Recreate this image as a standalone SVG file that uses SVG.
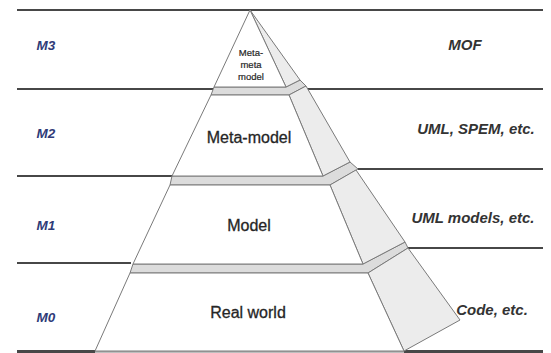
<svg xmlns="http://www.w3.org/2000/svg" width="551" height="353" viewBox="0 0 551 353">
  <style>
    .rule { stroke: #474747; stroke-width: 2; fill: none; }
    .base { stroke: #a8a8a8; stroke-width: 2.5; fill: none; }
    .front { fill: #ffffff; stroke: #7a7a7a; stroke-width: 1; stroke-linejoin: round; }
    .side { fill: #ececec; stroke: #7a7a7a; stroke-width: 1; stroke-linejoin: round; }
    .slab { fill: #dcdcdc; stroke: #7a7a7a; stroke-width: 1; stroke-linejoin: round; }
    .lvl { font-family: "Liberation Sans", Arial, sans-serif; font-size: 13.5px; font-weight: bold; font-style: italic; fill: #2f3b78; text-anchor: middle; }
    .tech { font-family: "Liberation Sans", Arial, sans-serif; font-size: 15px; font-weight: bold; font-style: italic; fill: #333333; text-anchor: middle; }
    .name { font-family: "Liberation Sans", Arial, sans-serif; font-size: 16px; fill: #262626; stroke: #262626; stroke-width: 0.3; text-anchor: middle; }
    .small { font-family: "Liberation Sans", Arial, sans-serif; font-size: 9.5px; fill: #262626; stroke: #262626; stroke-width: 0.2; text-anchor: middle; }
  </style>
  <rect width="551" height="353" fill="#ffffff"/>

  <!-- level separator rules -->
  <g id="connectors">
    <line class="rule" x1="17" y1="10" x2="543" y2="10"/>
    <line class="rule" x1="17" y1="89" x2="213" y2="89"/>
    <line class="rule" x1="305" y1="89" x2="543" y2="89"/>
    <line class="rule" x1="17" y1="176" x2="172" y2="176"/>
    <line class="rule" x1="358" y1="169" x2="543" y2="169"/>
    <line class="rule" x1="17" y1="263" x2="131" y2="263"/>
    <line class="rule" x1="408" y1="248" x2="543" y2="248"/>
    <line class="rule" x1="17" y1="351.5" x2="95" y2="351.5" style="stroke-width:3"/>
    <line class="base" x1="95" y1="351.5" x2="404" y2="351.5"/>
    <line class="rule" x1="404" y1="351.5" x2="543" y2="351.5" style="stroke-width:3"/>
  </g>

  <!-- M0 layer: Real world -->
  <g id="layer-m0">
    <polygon class="slab" points="133,264 363,264 405,242 408,248 368,273 130,273"/>
    <polygon class="side" points="368,273 408,248 460,320 404,351"/>
    <polygon class="front" points="130,273 368,273 404,351 95,351"/>
    <text class="name" x="248" y="318">Real world</text>
  </g>

  <!-- M1 layer: Model -->
  <g id="layer-m1">
    <polygon class="slab" points="172,176 323,176 350,162 358,169 330,185 170,185"/>
    <polygon class="side" points="330,185 356,170 405,242 363,264"/>
    <polygon class="front" points="170,185 330,185 363,264 133,264"/>
    <text class="name" x="249" y="231">Model</text>
  </g>

  <!-- M2 layer: Meta-model -->
  <g id="layer-m2">
    <polygon class="slab" points="214,87 286,87 300,80 306,86 289,95 211,95"/>
    <polygon class="side" points="289,95 306,86 350,162 323,176"/>
    <polygon class="front" points="211,95 289,95 323,176 172,176"/>
    <text class="name" x="249" y="143">Meta-model</text>
  </g>

  <!-- M3 layer: Meta-meta model -->
  <g id="layer-m3">
    <polygon class="side" points="250,10 286,87 300,80"/>
    <polygon class="front" points="250,10 214,87 286,87"/>
    <text class="small" x="251" y="56">Meta-</text>
    <text class="small" x="251" y="68">meta</text>
    <text class="small" x="251" y="80">model</text>
  </g>

  <!-- level names -->
  <g id="level-m3"><text class="lvl" x="46" y="50">M3</text></g>
  <g id="level-m2"><text class="lvl" x="46" y="138">M2</text></g>
  <g id="level-m1"><text class="lvl" x="46" y="230">M1</text></g>
  <g id="level-m0"><text class="lvl" x="46" y="322">M0</text></g>

  <!-- technologies per level -->
  <g id="tech-m3"><text class="tech" x="465" y="50">MOF</text></g>
  <g id="tech-m2"><text class="tech" x="476" y="134">UML, SPEM, etc.</text></g>
  <g id="tech-m1"><text class="tech" x="473" y="223">UML models, etc.</text></g>
  <g id="tech-m0"><text class="tech" x="492" y="315">Code, etc.</text></g>
</svg>
